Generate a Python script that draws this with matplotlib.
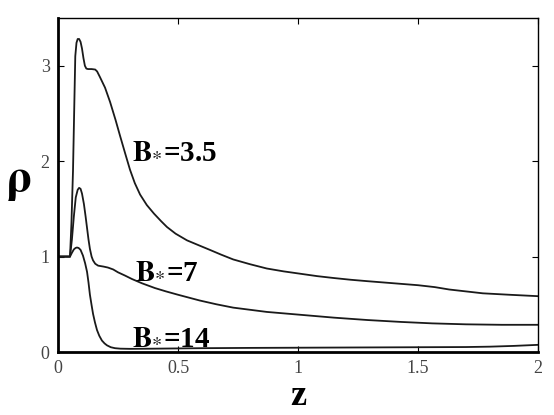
import matplotlib
matplotlib.use("Agg")
import matplotlib.pyplot as plt

z_35 = [0.0, 0.05, 0.056, 0.0625, 0.068, 0.072, 0.077, 0.082, 0.088, 0.094, 0.10, 0.106,
        0.112, 0.118, 0.125, 0.14, 0.155, 0.163, 0.175, 0.196, 0.217, 0.24, 0.258, 0.28,
        0.30, 0.32, 0.342, 0.37, 0.40, 0.43, 0.454, 0.49, 0.5375, 0.585, 0.633, 0.68,
        0.73, 0.80, 0.87, 0.94, 1.01, 1.08, 1.15, 1.22, 1.29, 1.40, 1.50, 1.57, 1.63,
        1.70, 1.77, 1.88, 2.0]
rho_35 = [1.0, 1.0, 1.35, 1.9, 2.6, 3.1, 3.24, 3.28, 3.28, 3.25, 3.18, 3.08,
          3.0, 2.97, 2.965, 2.965, 2.96, 2.94, 2.88, 2.77, 2.62, 2.43, 2.27, 2.08,
          1.91, 1.77, 1.65, 1.54, 1.45, 1.37, 1.31, 1.24, 1.17, 1.12, 1.07, 1.02,
          0.97, 0.92, 0.875, 0.845, 0.82, 0.795, 0.775, 0.757, 0.742, 0.72, 0.70, 0.68, 0.655,
          0.635, 0.615, 0.60, 0.585]

z_7 = [0.0, 0.05, 0.058, 0.066, 0.074, 0.082, 0.088, 0.094, 0.10, 0.108, 0.115, 0.121,
       0.127, 0.133, 0.14, 0.146, 0.155, 0.167, 0.19, 0.208, 0.23, 0.25, 0.28, 0.308,
       0.35, 0.404, 0.45, 0.50, 0.59, 0.66, 0.73, 0.87, 1.01, 1.15, 1.29, 1.43, 1.56,
       1.70, 1.85, 2.0]
rho_7 = [1.0, 1.0, 1.18, 1.42, 1.62, 1.70, 1.72, 1.71, 1.66, 1.55, 1.42, 1.3,
         1.18, 1.08, 1.0, 0.96, 0.925, 0.905, 0.895, 0.885, 0.865, 0.835, 0.8, 0.765,
         0.72, 0.67, 0.635, 0.6, 0.54, 0.5, 0.465, 0.42, 0.39, 0.36, 0.335, 0.315, 0.30,
         0.29, 0.285, 0.285]

z_14 = [0.0, 0.05, 0.058, 0.066, 0.073, 0.079, 0.086, 0.094, 0.104, 0.113, 0.121, 0.127,
        0.133, 0.14, 0.146, 0.154, 0.1625, 0.172, 0.183, 0.194, 0.204, 0.22, 0.2375, 0.26,
        0.3, 0.4, 0.6, 0.8, 1.0, 1.2, 1.5, 1.7, 1.8, 1.9, 2.0]
rho_14 = [1.0, 1.0, 1.04, 1.075, 1.09, 1.095, 1.09, 1.07, 1.01, 0.93, 0.84, 0.73,
          0.6, 0.49, 0.4, 0.31, 0.23, 0.17, 0.12, 0.09, 0.07, 0.05, 0.04, 0.035,
          0.033, 0.035, 0.04, 0.043, 0.045, 0.047, 0.05, 0.052, 0.056, 0.064, 0.075]

x_ticks = [0, 0.5, 1, 1.5, 2]
x_tick_labels = ["0", "0.5", "1", "1.5", "2"]
y_ticks = [0, 1, 2, 3]

labels = [r"$\mathbf{B}_{*}$=3.5", r"$\mathbf{B}_{*}$=7", r"$\mathbf{B}_{*}$=14"]
label_pos = [(0.31, 2.03), (0.32, 0.78), (0.31, 0.08)]

plt.rcParams["mathtext.fontset"] = "stix"

fig = plt.figure(figsize=(5.54, 4.15), dpi=100)
ax = fig.add_axes([0.1047, 0.1518, 0.8664, 0.8048])

for z, rho in [(z_35, rho_35), (z_7, rho_7), (z_14, rho_14)]:
    ax.plot(z, rho, color="#1a1a1a", linewidth=1.3)

for txt, (x, y) in zip(labels, label_pos):
    ax.text(x, y, txt, fontsize=21, color="black", ha="left", va="baseline",
            family="Liberation Serif", fontweight="bold")

ax.set_xlim(0, 2)
ax.set_ylim(0, 3.5)
ax.set_xticks(x_ticks)
ax.set_xticklabels(x_tick_labels)
ax.set_yticks(y_ticks)
ax.tick_params(direction="in", length=4, width=0.8, top=True, right=True,
               labelsize=13, colors="black", labelcolor="#444444", pad=6)
for lbl in ax.get_xticklabels() + ax.get_yticklabels():
    lbl.set_fontfamily("Liberation Serif")

for side in ["top", "right"]:
    ax.spines[side].set_linewidth(1.0)
for side in ["left", "bottom"]:
    ax.spines[side].set_linewidth(2.0)

fig.text(0.032, 0.565, r"$\mathbf{\rho}$", fontsize=34, ha="center", va="center",
         family="DejaVu Sans", fontweight="bold")
fig.text(0.538, 0.045, "z", fontsize=26, ha="center", va="center",
         family="Liberation Serif", fontweight="bold")

fig.savefig("out.png", dpi=100)
